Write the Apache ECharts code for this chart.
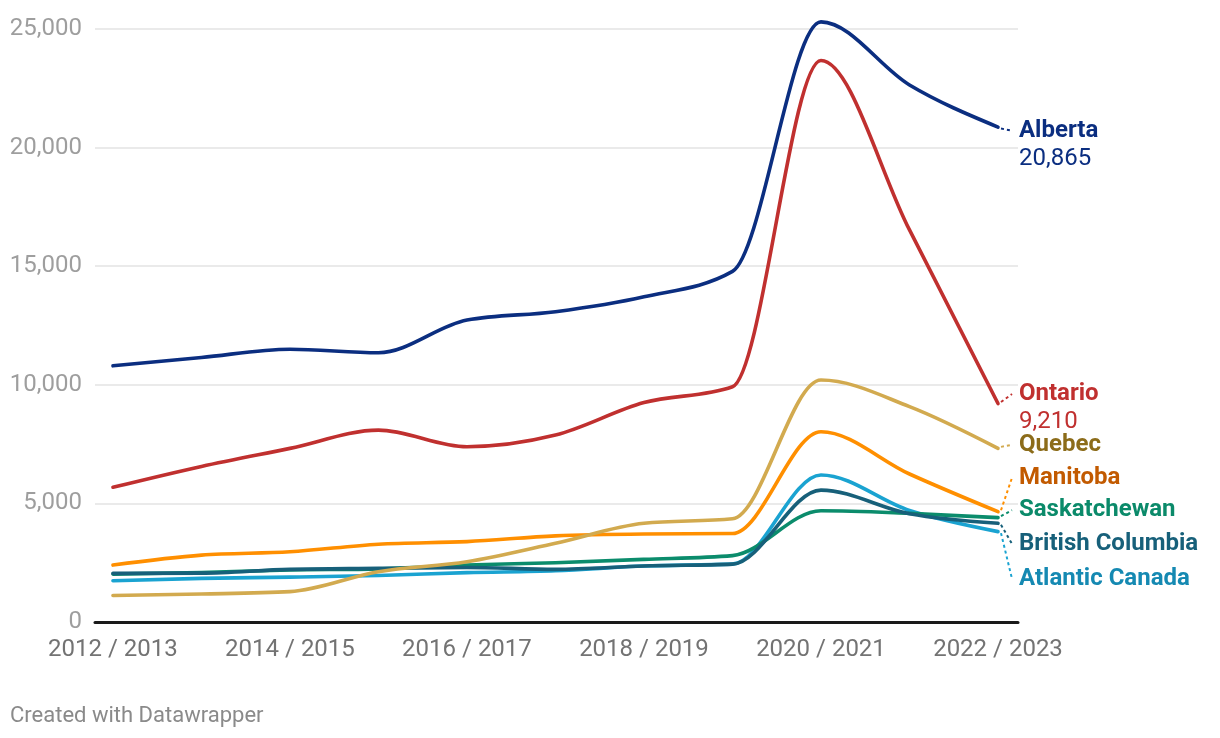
<!DOCTYPE html>
<html>
<head>
<meta charset="utf-8">
<script src="https://cdn.jsdelivr.net/npm/echarts@6/dist/echarts.min.js"></script>
<style>
  html, body { margin: 0; padding: 0; background: #fff; }
  #chart { width: 1220px; height: 738px; }
</style>
</head>
<body>
<div id="chart"></div>
<script>
// ---- data ----
const years = ['2012 / 2013','2013 / 2014','2014 / 2015','2015 / 2016','2016 / 2017','2017 / 2018',
               '2018 / 2019','2019 / 2020','2020 / 2021','2021 / 2022','2022 / 2023'];
const xTickIdx = [0, 2, 4, 6, 8, 10];
const yTicks = [0, 5000, 10000, 15000, 20000, 25000];

const alberta      = [10800, 11150, 11500, 11350, 12730, 13080, 13710, 14780, 25300, 22640, 20865];
const ontario      = [5680, 6560, 7320, 8090, 7390, 7880, 9250, 9920, 23670, 16530, 9210];
const quebec       = [1120, 1180, 1280, 2120, 2540, 3320, 4160, 4350, 10200, 9080, 7320];
const manitoba     = [2400, 2820, 2960, 3280, 3390, 3630, 3710, 3730, 8020, 6240, 4650];
const saskatchewan = [2020, 2090, 2190, 2240, 2400, 2500, 2640, 2800, 4690, 4580, 4400];
const britishCol   = [2050, 2060, 2220, 2260, 2300, 2220, 2360, 2440, 5560, 4560, 4160];
const atlantic     = [1740, 1840, 1890, 1960, 2080, 2160, 2360, 2440, 6200, 4700, 3810];

// ---- styling ----
const FONT = 'Roboto, "Noto Sans", sans-serif';
const defs = [
  { name: 'Atlantic Canada',  data: atlantic,     line: '#1aa3d1', label: '#1589b2', dy: 47.2,  showVal: false },
  { name: 'Saskatchewan',     data: saskatchewan, line: '#0b8c6c', label: '#0b8a6a', dy: -7.5,  showVal: false },
  { name: 'British Columbia', data: britishCol,   line: '#17607a', label: '#17607a', dy: 20.5,  showVal: false },
  { name: 'Manitoba',         data: manitoba,     line: '#ff8f00', label: '#c25a00', dy: -33.9, showVal: false },
  { name: 'Quebec',           data: quebec,       line: '#d2aa4f', label: '#8c6c1a', dy: -3.5,  showVal: false },
  { name: 'Ontario',          data: ontario,      line: '#c0302f', label: '#c0302f', dy: -9.5,  showVal: true },
  { name: 'Alberta',          data: alberta,      line: '#0b2e80', label: '#0b2e80', dy: 3.5,   showVal: true }
];

// monotone-x cubic (same as d3.curveMonotoneX), built from axis-mapped pixel points
function sgn(v) { return v < 0 ? -1 : 1; }
function monotonePath(pts) {
  const n = pts.length;
  const t = new Array(n).fill(0);
  for (let i = 1; i < n - 1; i++) {
    const [x0, y0] = pts[i - 1], [x1, y1] = pts[i], [x2, y2] = pts[i + 1];
    const h0 = x1 - x0, h1 = x2 - x1;
    const s0 = (y1 - y0) / h0, s1 = (y2 - y1) / h1;
    const p = (s0 * h1 + s1 * h0) / (h0 + h1);
    t[i] = (sgn(s0) + sgn(s1)) * Math.min(Math.abs(s0), Math.abs(s1), 0.5 * Math.abs(p)) || 0;
  }
  if (n > 2) {
    const h = pts[1][0] - pts[0][0];
    t[0] = (3 * (pts[1][1] - pts[0][1]) / h - t[1]) / 2;
    const he = pts[n - 1][0] - pts[n - 2][0];
    t[n - 1] = (3 * (pts[n - 1][1] - pts[n - 2][1]) / he - t[n - 2]) / 2;
  }
  let d = 'M' + pts[0][0] + ' ' + pts[0][1];
  for (let i = 0; i < n - 1; i++) {
    const [x0, y0] = pts[i], [x1, y1] = pts[i + 1];
    const dx = (x1 - x0) / 3;
    d += ' C' + (x0 + dx) + ' ' + (y0 + dx * t[i]) + ' ' + (x1 - dx) + ' ' + (y1 - dx * t[i + 1]) + ' ' + x1 + ' ' + y1;
  }
  return d;
}

const chart = echarts.init(document.getElementById('chart'), null, { renderer: 'canvas' });

const series = defs.map(d => ({
  name: d.name,
  type: 'custom',
  data: d.data.map((v, i) => [i, v]),
  encode: { x: 0, y: 1 },
  clip: false,
  silent: true,
  renderItem: function (params, api) {
    if (params.dataIndex !== 0) return null;
    const pts = d.data.map((v, i) => api.coord([i, v]));
    const last = pts[pts.length - 1];
    const children = [{
      type: 'path',
      shape: { pathData: monotonePath(pts) },
      style: { fill: 'none', stroke: d.line, lineWidth: 3.6, lineJoin: 'round', lineCap: 'round' }
    }];
    if (Math.abs(d.dy) > 3) {
      children.push({
        type: 'line',
        shape: { x1: last[0] + 3, y1: last[1] + sgn(d.dy) * 1.5, x2: last[0] + 14, y2: last[1] + d.dy },
        style: { stroke: d.line, lineWidth: 2, lineDash: [3, 3] }
      });
    }
    children.push({
      type: 'text',
      x: last[0] + 21,
      y: last[1] + d.dy,
      style: { text: d.name, fill: d.label, font: 'bold 24px ' + FONT, align: 'left', verticalAlign: 'middle' }
    });
    if (d.showVal) {
      children.push({
        type: 'text',
        x: last[0] + 21,
        y: last[1] + d.dy + 28,
        style: { text: d.data[d.data.length - 1].toLocaleString('en-US'), fill: d.label,
                 font: '24px ' + FONT, align: 'left', verticalAlign: 'middle' }
      });
    }
    return { type: 'group', children: children };
  }
}));

chart.setOption({
  animation: false,
  backgroundColor: '#fff',
  grid: { left: 95, right: 202, top: 29, bottom: 116 },
  xAxis: {
    type: 'value',
    min: -0.203,
    max: 10.226,
    axisLine: { show: true, onZero: true, lineStyle: { color: '#1a1a1a', width: 3 } },
    axisTick: { show: false },
    splitLine: { show: false },
    axisLabel: {
      customValues: xTickIdx,
      formatter: v => years[v],
      color: '#737373',
      fontFamily: FONT,
      fontSize: 24,
      margin: 16
    }
  },
  yAxis: {
    type: 'value',
    min: 0,
    max: 25000,
    interval: 5000,
    axisLine: { show: false },
    axisTick: { show: false },
    splitLine: { lineStyle: { color: '#e3e3e3', width: 1.5 } },
    axisLabel: {
      customValues: yTicks,
      formatter: v => v.toLocaleString('en-US'),
      color: '#9e9e9e',
      fontFamily: FONT,
      fontSize: 24,
      margin: 13
    }
  },
  series: series,
  graphic: [{
    type: 'text',
    left: 10,
    top: 705,
    style: { text: 'Created with Datawrapper', fill: '#8a8a8a', font: '22px ' + FONT }
  }]
});
</script>
</body>
</html>
